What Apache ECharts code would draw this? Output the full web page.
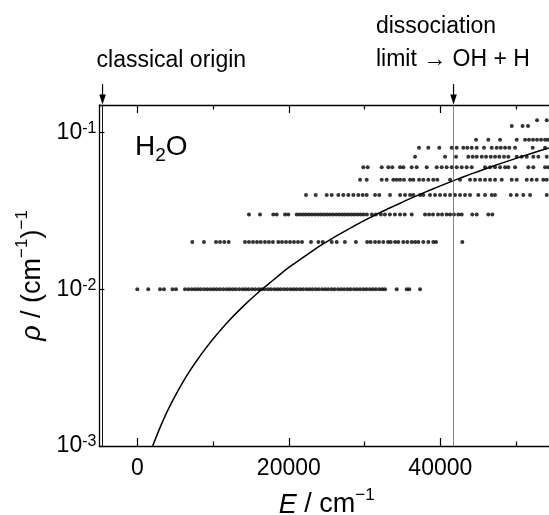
<!DOCTYPE html>
<html>
<head>
<meta charset="utf-8">
<script src="https://cdn.jsdelivr.net/npm/echarts@6.0.0/dist/echarts.min.js"></script>
<style>
html, body { margin: 0; padding: 0; background: #fff; }
#chart { width: 549px; height: 515px; }
</style>
</head>
<body>
<div id="chart"></div>
<script>
// ---------- data ----------
const FONT = '"Liberation Sans", Arial, Helvetica, sans-serif';

// density levels (cm) for the rows of dots
const levels = [0.01, 0.02, 0.03, 0.04, 0.05, 0.06, 0.07, 0.08, 0.09, 0.11, 0.12];

// energies (cm^-1) of the dots in each row
const rho001 = [0, 1450, 3000, 3520, 4650, 5110, 6300, 6750, 7200, 7600, 8000, 8400, 8850, 9250, 9700, 10100,
  10500, 10900, 11350, 11800, 12200, 12600, 13000, 13450, 13900, 14300, 14700, 15150, 15550, 16000, 16400,
  16800, 17250, 17650, 18100, 18500, 18900, 19350, 19750, 20200, 20600, 21000, 21450, 21850, 22300, 22700,
  23100, 23550, 23950, 24400, 24800, 25200, 25650, 26050, 26500, 26900, 27300, 27750, 28150, 28600, 29000,
  29400, 29850, 30250, 30700, 31100, 31500, 31950, 32350, 32700, 34240, 35560, 35900, 37320];
const rho002 = [7260, 8800, 10390, 10920, 11480, 12060, 14220, 14740, 15270, 15800, 16300, 16850, 17370, 17900,
  18610, 19100, 19630, 20160, 20680, 21210, 21740, 22930, 23900, 24480, 25660, 26320, 27400, 28850, 30340,
  30800, 31380, 31900, 32470, 33090, 33450, 34020, 34450, 35110, 35640, 36220, 36660, 37090, 37750, 38410,
  39070, 39430, 42900];
const rho003 = [14740, 16200, 17950, 18400, 19500, 19930, 21040, 21440, 21840, 22240, 22640, 23040, 23440,
  23840, 24240, 24640, 25040, 25440, 25840, 26240, 26640, 27040, 27440, 27840, 28240, 28640, 29040, 29440,
  29850, 30300, 30960, 31490, 32150, 32680, 33340, 34000, 34680, 35300, 36220, 37980, 38510, 39030, 39690,
  40220, 40840, 41280, 41800, 42370, 42820, 44220, 44800, 46330, 46860];
const rho004 = [22270, 23550, 25000, 25660, 26530, 27190, 27850, 28510, 29170, 29750, 30280, 31380, 31940,
  33360, 34680, 35340, 36000, 36430, 37320, 37750, 38640, 39300, 39960, 40620, 41280, 41940, 42600, 43260,
  43920, 45010, 45900, 46780, 47220, 49290, 50080, 50950, 51840, 54040];
const rho005 = [29400, 30280, 32260, 32920, 33790, 34240, 34680, 35200, 36000, 36430, 37190, 37750, 38410,
  39070, 39600, 41280, 42600, 43920, 44580, 45240, 45900, 46560, 47220, 48100, 49420, 50080, 51400, 52060,
  52720, 53590, 54040];
const rho006 = [29830, 30410, 32260, 33130, 33660, 34680, 35110, 36220, 36880, 38200, 39520, 40180, 40840,
  41500, 42160, 42820, 43480, 44140, 45900, 46560, 47220, 47880, 48540, 48970, 49860, 51610, 52270, 53820, 54250];
const rho007 = [36660, 40620, 42070, 43690, 44270, 44800, 45460, 46030, 46650, 47220, 47780, 48400, 48970,
  50080, 50740, 51400, 52270, 52930, 54040];
const rho008 = [37180, 38410, 39860, 41500, 42160, 43030, 43560, 44140, 44800, 45760, 46780, 47440, 47970,
  48540, 49100, 49860, 52190, 53820];
const rho009 = [44710, 46330, 47880, 50080, 51180, 51700, 52230, 52760, 53290, 53820, 54210];
const rho011 = [49420, 50850, 51570];
const rho012 = [52760, 54040];
const rows = [rho001, rho002, rho003, rho004, rho005, rho006, rho007, rho008, rho009, rho011, rho012];

// smooth density-of-states curve
const curveE   = [2030, 3000, 4000, 5000, 6000, 7000, 8000, 9000, 10000, 12000, 14000, 16000, 18000, 20000,
  22000, 24000, 26000, 28000, 30000, 32000, 34000, 36000, 38000, 40000, 42000, 44000, 46000, 48000, 50000,
  52000, 54000, 55000];
const curveRho = [0.00100, 0.00131, 0.00168, 0.00209, 0.00255, 0.00305, 0.00359, 0.00418, 0.00482, 0.00623,
  0.00781, 0.00958, 0.0115, 0.0138, 0.0161, 0.0188, 0.0215, 0.0244, 0.0275, 0.0308, 0.0342, 0.0379, 0.0417,
  0.0457, 0.0499, 0.0543, 0.0588, 0.0636, 0.0685, 0.0736, 0.0789, 0.0816];

// axes
const xRange = [-5000, 55000];
const yRange = [0.001, 0.15];
const xMajorTicks = [0, 20000, 40000];
const xMinorTicks = [10000, 30000, 50000];

// reference energies
const classicalOrigin = -4638;
const dissociationLimit = 41700;

// ---------- build ----------
const dots = [];
rows.forEach((row, i) => row.forEach(e => dots.push([e, levels[i]])));
const curve = curveE.map((e, i) => [e, curveRho[i]]);

const black = '#000';
const lineSt = { color: black, width: 1.3 };

function xAxisDef(position, ticks, len, withLine, withLabel) {
  return {
    type: 'value', position: position, min: xRange[0], max: xRange[1],
    axisLine: { show: withLine, onZero: false, lineStyle: lineSt },
    splitLine: { show: false },
    axisTick: { show: true, inside: true, length: len, customValues: ticks, lineStyle: { color: black, width: 1.2 } },
    axisLabel: { show: withLabel, customValues: ticks, formatter: v => String(v), color: black,
      fontSize: 23, fontFamily: FONT, margin: 11 }
  };
}

const xMain = xAxisDef('bottom', xMajorTicks, 8, true, true);
xMain.name = '{i|E}{n| / cm}{s|\u22121}';
xMain.nameLocation = 'middle';
xMain.nameGap = 41;
xMain.nameTextStyle = {
  color: black, fontFamily: FONT,
  rich: {
    i: { fontSize: 27, lineHeight: 36, fontStyle: 'italic', fontFamily: FONT, color: black },
    n: { fontSize: 27, lineHeight: 36, fontFamily: FONT, color: black },
    s: { fontSize: 17, lineHeight: 17, verticalAlign: 'top', fontFamily: FONT, color: black }
  }
};

function yLabel(v) {
  const lg = Math.log10(v);
  const e = Math.round(lg);
  if (Math.abs(lg - e) > 1e-6) return '';
  return '{b|10}{s|' + e + '}';
}

const option = {
  animation: false,
  backgroundColor: '#fff',
  grid: { left: 99.4, top: 105, width: 454.6, height: 341, containLabel: false, outerBoundsMode: 'none' },
  xAxis: [
    xMain,
    xAxisDef('bottom', xMinorTicks, 4.5, false, false),
    xAxisDef('top', xMajorTicks, 8, true, false),
    xAxisDef('top', xMinorTicks, 4.5, false, false)
  ],
  yAxis: [
    {
      type: 'log', logBase: 10, position: 'left', min: yRange[0], max: yRange[1],
      axisLine: { show: true, onZero: false, lineStyle: lineSt },
      splitLine: { show: false },
      minorTick: { show: false },
      axisTick: { show: true, inside: true, length: 5, lineStyle: { color: black, width: 1.2 } },
      axisLabel: {
        formatter: yLabel, margin: 3, color: black, fontFamily: FONT,
        rich: {
          b: { fontSize: 23, lineHeight: 24, fontFamily: FONT, color: black },
          s: { fontSize: 16, lineHeight: 18, verticalAlign: 'top', fontFamily: FONT, color: black }
        }
      },
      name: '{i|\u03c1}{n| / (cm}{s|\u22121}{n|)}{s|\u22121}',
      nameLocation: 'middle', nameRotate: 90, nameGap: 41,
      nameTextStyle: {
        color: black, fontFamily: FONT,
        rich: {
          i: { fontSize: 27, lineHeight: 36, fontStyle: 'italic', fontFamily: FONT, color: black },
          n: { fontSize: 27, lineHeight: 36, fontFamily: FONT, color: black },
          s: { fontSize: 17, lineHeight: 17, verticalAlign: 'top', fontFamily: FONT, color: black }
        }
      }
    },
    {
      type: 'log', logBase: 10, position: 'right', min: yRange[0], max: yRange[1],
      axisLine: { show: true, onZero: false, lineStyle: lineSt },
      splitLine: { show: false },
      minorTick: { show: false },
      axisTick: { show: true, inside: true, length: 5, lineStyle: { color: black, width: 1.2 } },
      axisLabel: { show: false }
    }
  ],
  series: [
    {
      type: 'scatter', xAxisIndex: 0, yAxisIndex: 0, data: dots,
      symbol: 'circle', symbolSize: 4,
      itemStyle: { color: black },
      silent: true,
      markLine: {
        silent: true, symbol: ['none', 'none'], label: { show: false },
        data: [
          { xAxis: classicalOrigin, lineStyle: { color: '#111', width: 1, type: 'solid' } },
          { xAxis: dissociationLimit, lineStyle: { color: '#666', width: 0.8, type: 'solid' } }
        ]
      }
    },
    {
      type: 'line', xAxisIndex: 0, yAxisIndex: 0, data: curve,
      smooth: 0.3, showSymbol: false, symbol: 'none',
      lineStyle: { color: black, width: 1.5 },
      silent: true
    }
  ]
};

const chart = echarts.init(document.getElementById('chart'), null, { renderer: 'canvas' });
chart.setOption(option);

// annotations above the frame, anchored to the energy scale
const xCO = chart.convertToPixel({ xAxisIndex: 0 }, classicalOrigin) + 0.4;
const xDL = chart.convertToPixel({ xAxisIndex: 0 }, dissociationLimit) + 0.3;
const yTop = chart.convertToPixel({ yAxisIndex: 0 }, yRange[1]);

function arrow(x) {
  return [
    { type: 'line', shape: { x1: x, y1: yTop - 21, x2: x, y2: yTop - 8 }, style: { stroke: black, lineWidth: 1.2 } },
    { type: 'polygon', shape: { points: [[x - 3.3, yTop - 10.5], [x + 3.3, yTop - 10.5], [x, yTop - 0.5]] }, style: { fill: black } }
  ];
}
function txt(x, y, s) {
  return { type: 'text', x: x, y: y, style: { text: s, fill: black, font: '23px ' + FONT, align: 'left', verticalAlign: 'middle' } };
}

chart.setOption({
  graphic: [].concat(
    arrow(xCO), arrow(xDL),
    [
      txt(xCO - 6, 60.5, 'classical origin'),
      txt(xDL - 77.6, 27, 'dissociation'),
      txt(xDL - 77.6, 60, 'limit \u2192 OH + H'),
      {
        type: 'text', x: 135, y: 133.5,
        style: {
          text: '{m|H}{sub|2}{m|O}', fill: black, align: 'left', verticalAlign: 'top',
          rich: {
            m: { fontSize: 28, lineHeight: 28, verticalAlign: 'top', fontFamily: FONT, fill: black },
            sub: { fontSize: 19, lineHeight: 32, verticalAlign: 'bottom', fontFamily: FONT, fill: black }
          }
        }
      }
    ]
  )
});
</script>
</body>
</html>
